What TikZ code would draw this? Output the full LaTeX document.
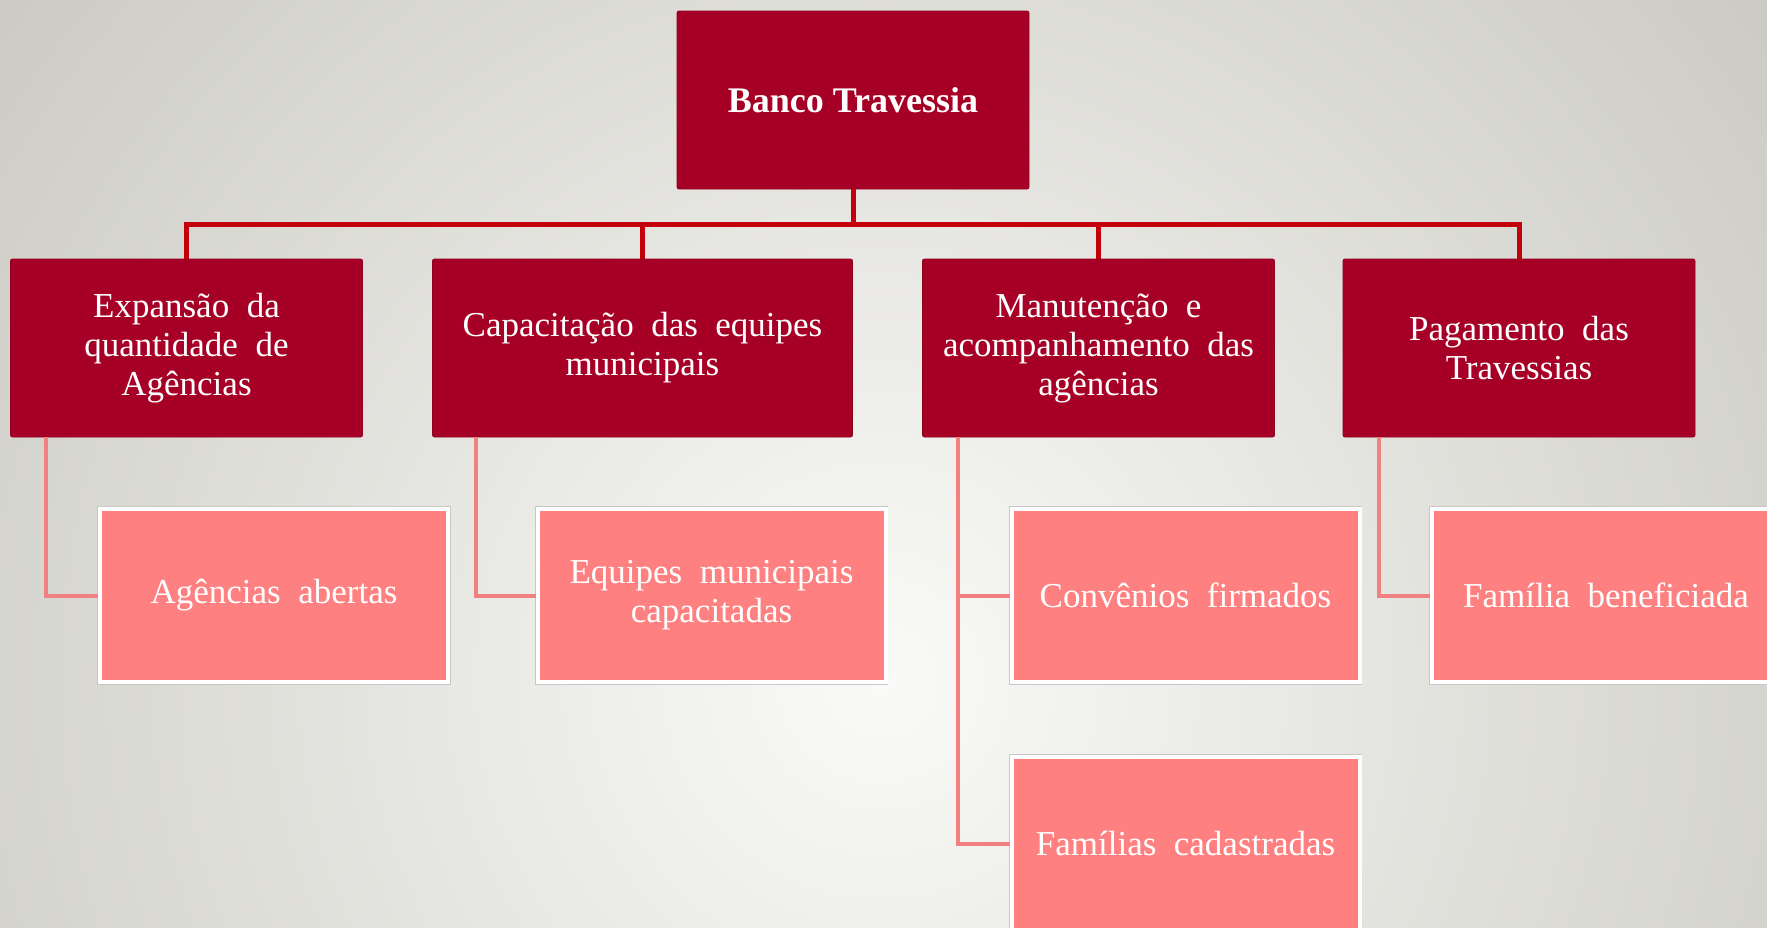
\documentclass[tikz,border=0pt]{standalone}
\usepackage{fontspec}
\setmainfont{Liberation Serif}
\definecolor{wine}{RGB}{167,0,38}
\definecolor{salmon}{RGB}{255,128,128}
\definecolor{busred}{RGB}{195,0,12}
\definecolor{leafred}{RGB}{242,128,128}
\definecolor{bggray}{RGB}{203,202,195}
\definecolor{bglight}{RGB}{250,250,248}
\begin{document}
\begin{tikzpicture}[
            x=0.5pt,
            y=-0.5pt,
            every node/.style={
                font=\fontsize{17.5}{19.5}\selectfont,
                text=white,
                align=center,
                inner sep=0pt,
                execute at begin node={\spaceskip=0.5em\relax}
            },
            topbox/.style={
                rectangle,
                rounded corners=1pt,
                fill=wine,
                draw=wine!85!black,
                line width=0.4pt,
                minimum width=176pt,
                minimum height=89pt
            },
            leafbox/.style={
                rectangle,
                fill=salmon,
                draw=white,
                line width=2pt,
                minimum width=174pt,
                minimum height=86.5pt,
                preaction={draw=black!22, line width=2.8pt}
            },
            busline/.style={draw=busred, line width=2.5pt},
            leafline/.style={draw=leafred, line width=2pt}
        ]
            \clip (0,0) rectangle (1767,927);
            \shade[inner color=bglight, outer color=bggray] (880,680) circle (560pt);

            \node[topbox, font=\bfseries\fontsize{18}{20}\selectfont,
                execute at begin node={\spaceskip=0pt\relax}] (banco) at (853,100) {Banco Travessia};

            \node[topbox] (expansao) at (186.5,348) {Expansão da\\quantidade de\\Agências};
            \node[topbox, minimum width=210pt] (capacitacao) at (642.5,348) {Capacitação das equipes\\municipais};
            \node[topbox] (manutencao) at (1098.5,348) {Manutenção e\\acompanhamento das\\agências};
            \node[topbox] (pagamento) at (1519,348) {Pagamento das\\Travessias};

            \node[leafbox] (agencias) at (274,595.5) {Agências abertas};
            \node[leafbox] (equipes) at (711.5,595.5) {Equipes municipais\\capacitadas};
            \node[leafbox] (convenios) at (1185.5,595.5) {Convênios firmados};
            \node[leafbox] (familias) at (1185.5,843.5) {Famílias cadastradas};
            \node[leafbox] (beneficiada) at (1606,595.5) {Família beneficiada};

            \draw[busline] (banco.south) -- ++(0,35) -| (expansao.north);
            \draw[busline] (banco.south) -- ++(0,35) -| (capacitacao.north);
            \draw[busline] (banco.south) -- ++(0,35) -| (manutencao.north);
            \draw[busline] (banco.south) -- ++(0,35) -| (pagamento.north);

            \draw[leafline] ([xshift=18pt]expansao.south west) |- (agencias.west);
            \draw[leafline] ([xshift=22pt]capacitacao.south west) |- (equipes.west);
            \draw[leafline] ([xshift=18pt]manutencao.south west) |- (convenios.west);
            \draw[leafline] ([xshift=18pt]manutencao.south west) |- (familias.west);
            \draw[leafline] ([xshift=18pt]pagamento.south west) |- (beneficiada.west);
        \end{tikzpicture}
\end{document}
